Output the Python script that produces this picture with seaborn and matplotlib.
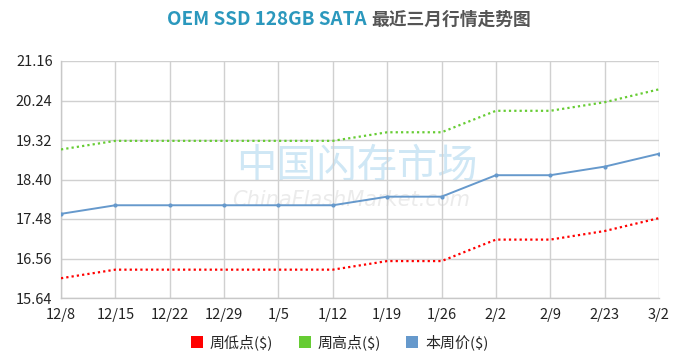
import matplotlib
matplotlib.use("Agg")
import matplotlib.pyplot as plt
from matplotlib.lines import Line2D
import seaborn as sns
import pandas as pd
import numpy as np

dates = ["12/8", "12/15", "12/22", "12/29", "1/5", "1/12", "1/19", "1/26", "2/2", "2/9", "2/23", "3/2"]
low = [16.1, 16.3, 16.3, 16.3, 16.3, 16.3, 16.5, 16.5, 17.0, 17.0, 17.2, 17.5]
high = [19.1, 19.3, 19.3, 19.3, 19.3, 19.3, 19.5, 19.5, 20.0, 20.0, 20.2, 20.5]
avg = [17.6, 17.8, 17.8, 17.8, 17.8, 17.8, 18.0, 18.0, 18.5, 18.5, 18.7, 19.0]
series_names = ["周低点($)", "周高点($)", "本周价($)"]
yticks = [15.64, 16.56, 17.48, 18.40, 19.32, 20.24, 21.16]

colors = {"周低点($)": "#ff0000", "周高点($)": "#66cc33", "本周价($)": "#6699cc"}

sns.set_theme(style="white")
plt.rcParams["font.family"] = ["Noto Sans CJK SC", "DejaVu Sans"]

idx = np.arange(len(dates))
df = pd.concat([
    pd.DataFrame({"x": idx, "value": vals, "series": name})
    for name, vals in zip(series_names, [low, high, avg])
])

fig = plt.figure(figsize=(6.78, 3.57), dpi=100)
ax = fig.add_axes([61 / 678, 1 - 298 / 357, (659 - 61) / 678, (298 - 61) / 357])

# watermark
ax.text(0.495, 0.555, "中国闪存市场", transform=ax.transAxes, ha="center", va="center",
        fontsize=29, color="#cfe7f5", fontweight="medium", zorder=0)
ax.text(0.485, 0.415, "ChinaFlashMarket.com", transform=ax.transAxes, ha="center", va="center",
        fontsize=15, color="#ebebeb", style="italic", family="DejaVu Sans", zorder=0)

for name in ["周低点($)", "周高点($)"]:
    sub = df[df.series == name]
    sns.lineplot(data=sub, x="x", y="value", ax=ax, color=colors[name], linewidth=1.6,
                 linestyle=(0, (1, 1.4)), legend=False, zorder=3)
sub = df[df.series == "本周价($)"]
sns.lineplot(data=sub, x="x", y="value", ax=ax, color=colors["本周价($)"], linewidth=1.4,
             marker="o", markersize=3, markeredgewidth=0, legend=False, zorder=3)

ax.set_xlim(0, len(dates) - 1)
ax.set_ylim(yticks[0], yticks[-1])
ax.set_yticks(yticks)
ax.set_yticklabels([f"{v:.2f}" for v in yticks])
ax.set_xticks(idx)
ax.set_xticklabels(dates)
ax.set_xlabel("")
ax.set_ylabel("")
ax.grid(True, color="#d0d0d0", linewidth=1.0)
ax.set_axisbelow(True)
for s in ["top", "right"]:
    ax.spines[s].set_visible(False)
for s in ["left", "bottom"]:
    ax.spines[s].set_color("#c8c8c8")
    ax.spines[s].set_linewidth(1.0)
ax.tick_params(axis="both", which="both", length=5, width=1, color="#c8c8c8",
               labelsize=10.5, labelcolor="#222222", pad=1, direction="out")
ax.tick_params(axis="x", length=6)

# title (two colours)
fig.text(0.541, 0.945, "OEM SSD 128GB SATA", ha="right", va="center", fontsize=13.6,
         fontweight="bold", color="#2b98bd")
fig.text(0.548, 0.945, "最近三月行情走势图", ha="left", va="center", fontsize=12.8,
         fontweight="bold", color="#555555")

handles = [Line2D([0], [0], marker="s", linestyle="none", markersize=9,
                  markerfacecolor=colors[n], markeredgewidth=0) for n in series_names]
fig.legend(handles, series_names, loc="center", bbox_to_anchor=(0.5, 1 - 342 / 357),
           ncol=3, frameon=False, fontsize=10.8, handletextpad=0.35, columnspacing=1.6,
           handlelength=1.0)

fig.savefig("out.png", dpi=100)
